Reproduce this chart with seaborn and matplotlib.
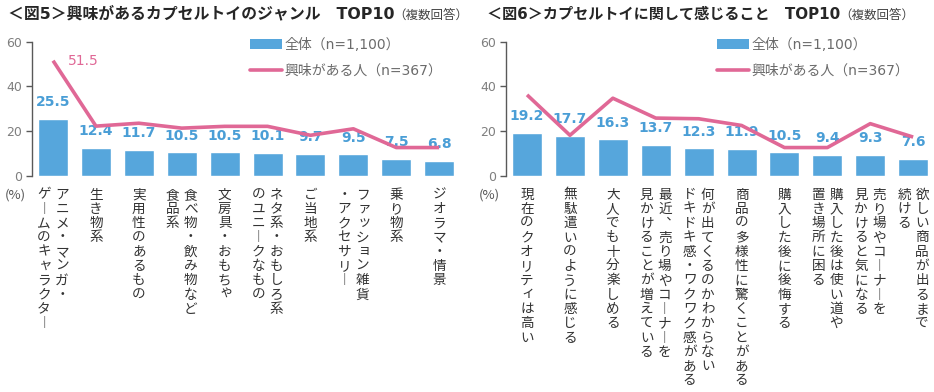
import numpy as np
import pandas as pd
import matplotlib
matplotlib.use("Agg")
import matplotlib.pyplot as plt
import seaborn as sns
from matplotlib import font_manager as fm
from matplotlib.ft2font import FT2Font
from matplotlib.lines import Line2D
from matplotlib.patches import Patch

# ---------------- data ----------------
fig5_title = "＜図5＞興味があるカプセルトイのジャンル　TOP10"
fig6_title = "＜図6＞カプセルトイに関して感じること　TOP10"
subtitle = "（複数回答）"
series_names = ["全体（n=1,100）", "興味がある人（n=367）"]
unit_label = "(%)"

fig5_categories = [
    "アニメ・マンガ・\nゲームのキャラクター",
    "生き物系",
    "実用性のあるもの",
    "食べ物・飲み物など\n食品系",
    "文房具・おもちゃ",
    "ネタ系・おもしろ系\nのユニークなもの",
    "ご当地系",
    "ファッション雑貨\n・アクセサリー",
    "乗り物系",
    "ジオラマ・情景",
]
fig5_all = [25.5, 12.4, 11.7, 10.5, 10.5, 10.1, 9.7, 9.5, 7.5, 6.8]
fig5_interest = [51.5, 22.2, 23.5, 21.3, 22.1, 22.1, 18.1, 21.0, 12.6, 12.6]

fig6_categories = [
    "現在のクオリティは高い",
    "無駄遣いのように感じる",
    "大人でも十分楽しめる",
    "最近、売り場やコーナーを\n見かけることが増えている",
    "何が出てくるのかわからない\nドキドキ感・ワクワク感がある",
    "商品の多様性に驚くことがある",
    "購入した後に後悔する",
    "購入した後は使い道や\n置き場所に困る",
    "売り場やコーナーを\n見かけると気になる",
    "欲しい商品が出るまで\n続ける",
]
fig6_all = [19.2, 17.7, 16.3, 13.7, 12.3, 11.9, 10.5, 9.4, 9.3, 7.6]
fig6_interest = [36.2, 18.1, 34.7, 25.8, 25.5, 22.5, 12.6, 12.6, 23.3, 17.3]

y_ticks = [0, 20, 40, 60]

# ---------------- style ----------------
BAR = "#56A6DC"
BAR_TXT = "#4A9ED6"
PINK = "#E06896"
DARK = "#333333"
GREY = "#7f7f7f"
CJK = "Noto Sans CJK JP"
MIX = ["DejaVu Sans", CJK]

sns.set_style("white")
plt.rcParams["font.family"] = [CJK, "DejaVu Sans"]

# glyph availability for vertical presentation forms
_cjk_path = fm.findfont(fm.FontProperties(family=CJK))
try:
    _ft = FT2Font(_cjk_path)
    def has_glyph(c):
        return _ft.get_char_index(ord(c)) != 0
except Exception:
    def has_glyph(c):
        return False

SMALL_KANA = set("ァィゥェォッャュョヮぁぃぅぇぉっゃゅょ")


def vert_glyph(ch):
    """return (glyph, dx_em, dy_em) for vertical setting"""
    if ch == "ー":
        return ("︱" if has_glyph("︱") else "｜"), 0.0, 0.0
    if ch == "、":
        if has_glyph("︑"):
            return "︑", 0.0, 0.0
        return "、", 0.55, 0.55
    if ch in SMALL_KANA:
        return ch, 0.12, 0.12
    return ch, 0.0, 0.0


FW, FH, DPI = 9.34, 3.92, 100
fig = plt.figure(figsize=(FW, FH), dpi=DPI)
fig.patch.set_facecolor("white")

ax_top = 1 - 41.7 / 392
ax_bot = 1 - 175.7 / 392
axes_specs = [
    (31.6 / 934, fig5_title, 11.4, fig5_categories, fig5_all, fig5_interest, 8 / 934, 250 / 934),
    (505.6 / 934, fig6_title, 10.9, fig6_categories, fig6_all, fig6_interest, 487 / 934, 717 / 934),
]

LAB_FS = 9.8
PITCH = 10.3
COL_GAP = 13.0
BASE = 8.6 + 0.8 * LAB_FS

fig.canvas.draw()
for x0, title, tfs, cats, vall, vint, tx, lx in axes_specs:
    ax = fig.add_axes([x0, ax_bot, 429 / 934, ax_top - ax_bot])
    df = pd.DataFrame({"cat": cats, "all": vall})
    sns.barplot(data=df, x="cat", y="all", order=cats, ax=ax, color=BAR,
                saturation=1, width=0.7, errorbar=None, zorder=2)
    pos = np.arange(len(cats))
    sns.lineplot(x=pos, y=vint, ax=ax, color=PINK, lw=2.6, zorder=6,
                 solid_capstyle="butt")
    anns = ax.bar_label(ax.containers[0], labels=[f"{v:.1f}" for v in vall],
                        padding=7, color=BAR_TXT, fontsize=10, fontweight="bold",
                        family="DejaVu Sans")
    for a in anns:
        a.set_zorder(4)

    ax.set_xlim(-0.5, len(cats) - 0.5)
    ax.set_ylim(0, 60)
    ax.set_yticks(y_ticks)
    ax.set_xlabel("")
    ax.set_ylabel("")
    ax.set_xticks([])
    for s in ["top", "right", "bottom"]:
        ax.spines[s].set_visible(False)
    ax.spines["left"].set_color("#595959")
    ax.spines["left"].set_linewidth(1.0)
    ax.tick_params(axis="y", direction="out", length=4, width=1, color="#595959",
                   labelsize=9, labelcolor=GREY, pad=3, left=True)
    for t in ax.get_yticklabels():
        t.set_family("DejaVu Sans")
    ax.set_facecolor("none")

    # annotate max of interest series
    imax = int(np.argmax(vint))
    if vint[imax] > 45:
        ax.annotate(f"{vint[imax]:.1f}", xy=(imax, vint[imax]), xytext=(11, 0),
                    textcoords="offset points", ha="left", va="center",
                    color=PINK, fontsize=10, family="DejaVu Sans")

    # unit label
    ax.annotate(unit_label, xy=(0, 0), xycoords="axes fraction",
                xytext=(-11.5, -14), textcoords="offset points", ha="center",
                va="center", fontsize=9.5, color="#555555", annotation_clip=False)

    # vertical (tategaki) category labels
    for i, lab in enumerate(cats):
        cols = lab.split("\n")
        n = len(cols)
        for j, col in enumerate(cols):
            dx = ((n - 1) / 2 - j) * COL_GAP
            for k, ch in enumerate(col):
                g, ox, oy = vert_glyph(ch)
                ax.annotate(g, xy=(i, 0), xycoords=("data", "axes fraction"),
                            xytext=(dx + ox * LAB_FS, -(BASE + k * PITCH) + oy * LAB_FS),
                            textcoords="offset points", ha="center", va="baseline",
                            fontsize=LAB_FS, color=DARK, annotation_clip=False)

    # legend
    handles = [Patch(facecolor=BAR, edgecolor="none"),
               Line2D([0], [0], color=PINK, lw=2.6)]
    leg = ax.legend(handles, series_names, loc="upper left",
                    bbox_to_anchor=(lx, 1 - 38 / 392), bbox_transform=fig.transFigure,
                    frameon=False, borderpad=0, borderaxespad=0, handlelength=2.3,
                    handletextpad=0.2, labelspacing=0.85, handleheight=0.7,
                    prop={"family": MIX, "size": 10})
    for t in leg.get_texts():
        t.set_color("#6b6b6b")

    # title
    tt = fig.text(tx, 1 - 18.5 / 392, title, fontsize=tfs, fontweight="bold",
                  family=MIX, color="#262626", va="baseline", ha="left")
    r = fig.canvas.get_renderer()
    bb = tt.get_window_extent(renderer=r)
    fig.text(bb.x1 / (FW * DPI) - 1 / 934, 1 - 18.5 / 392, subtitle, fontsize=9.0,
             family=MIX, color="#444444", va="baseline", ha="left")

fig.savefig("out.png", dpi=DPI, facecolor="white")
